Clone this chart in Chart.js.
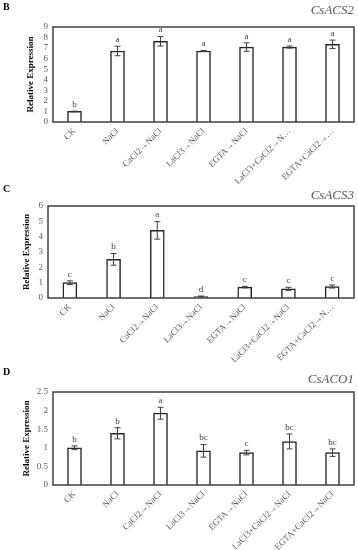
<!DOCTYPE html>
<html>
<head>
<meta charset="utf-8">
<script src="https://cdn.jsdelivr.net/npm/chart.js@4"></script>
<style>
  html, body { margin: 0; padding: 0; background: #ffffff; }
  body { width: 358px; height: 550px; position: relative; overflow: hidden; }
  canvas { position: absolute; left: 0; }
</style>
</head>
<body>
<canvas id="cB" width="358" height="185" style="top:0px"></canvas>
<canvas id="cC" width="358" height="180" style="top:185px"></canvas>
<canvas id="cD" width="358" height="185" style="top:365px"></canvas>
<script>
// ---------- DATA ----------
const categoriesB = ['CK', 'NaCl', 'CaCl2→NaCl', 'LaCl3→NaCl', 'EGTA→NaCl', 'LaCl3+CaCl2→N…', 'EGTA+CaCl2→…'];
const categoriesC = ['CK', 'NaCl', 'CaCl2→NaCl', 'LaCl3→NaCl', 'EGTA→NaCl', 'LaCl3+CaCl2→NaCl', 'EGTA+CaCl2→N…'];
const categoriesD = ['CK', 'NaCl', 'CaCl2→NaCl', 'LaCl3→NaCl', 'EGTA→NaCl', 'LaCl3+CaCl2→NaCl', 'EGTA+CaCl2→NaCl'];

const valuesB = [1.0, 6.73, 7.65, 6.73, 7.1, 7.1, 7.36];
const errorsB = [0.03, 0.45, 0.45, 0.05, 0.4, 0.1, 0.4];
const lettersB = ['b', 'a', 'a', 'a', 'a', 'a', 'a'];

const valuesC = [1.0, 2.52, 4.41, 0.1, 0.71, 0.6, 0.75];
const errorsC = [0.12, 0.38, 0.57, 0.03, 0.05, 0.1, 0.1];
const lettersC = ['c', 'b', 'a', 'd', 'c', 'c', 'c'];

const valuesD = [1.0, 1.39, 1.93, 0.92, 0.87, 1.17, 0.87];
const errorsD = [0.05, 0.15, 0.16, 0.17, 0.06, 0.2, 0.1];
const lettersD = ['b', 'b', 'a', 'bc', 'c', 'bc', 'bc'];

const yTicksB = { min: 0, max: 9, step: 1 };
const yTicksC = { min: 0, max: 6, step: 1 };
const yTicksD = { min: 0, max: 2.5, step: 0.5 };

const yTitle = 'Relative Expression';

// ---------- LAYOUT / STYLE ----------
const SERIF = '"Liberation Serif", "Times New Roman", serif';

const panels = [
  { id: 'cB', H: 185, top: 27, bottom: 122, left: 53, panel: 'B', gene: 'CsACS2', geneY: 11, panelY: 7, titleX: 31,
    cats: categoriesB, vals: valuesB, errs: errorsB, lets: lettersB, yt: yTicksB },
  { id: 'cC', H: 180, top: 21, bottom: 113, left: 48, panel: 'C', gene: 'CsACS3', geneY: 11, panelY: 4, titleX: 27,
    cats: categoriesC, vals: valuesC, errs: errorsC, lets: lettersC, yt: yTicksC },
  { id: 'cD', H: 185, top: 27, bottom: 120, left: 53, panel: 'D', gene: 'CsACO1', geneY: 15, panelY: 7, titleX: 27,
    cats: categoriesD, vals: valuesD, errs: errorsD, lets: lettersD, yt: yTicksD }
];

const decorPlugin = {
  id: 'decor',
  afterDatasetsDraw(chart, args, opts) {
    const ctx = chart.ctx;
    const ca = chart.chartArea;
    const meta = chart.getDatasetMeta(0);
    const ys = chart.scales.y;
    ctx.save();
    meta.data.forEach((bar, i) => {
      const v = opts.vals[i], e = opts.errs[i];
      const x = bar.x;
      const yT = ys.getPixelForValue(v + e);
      const yB = ys.getPixelForValue(v - e);
      ctx.strokeStyle = '#404040';
      ctx.lineWidth = 1;
      ctx.beginPath();
      ctx.moveTo(x, yT); ctx.lineTo(x, yB);
      ctx.moveTo(x - 3, yT); ctx.lineTo(x + 3, yT);
      ctx.moveTo(x - 3, yB); ctx.lineTo(x + 3, yB);
      ctx.stroke();
      ctx.fillStyle = '#404040';
      ctx.font = '9px ' + SERIF;
      ctx.textAlign = 'center';
      ctx.textBaseline = 'bottom';
      ctx.fillText(opts.lets[i], x, Math.min(yT, bar.y) - 2);
    });
    ctx.strokeStyle = '#404040';
    ctx.lineWidth = 1.5;
    ctx.strokeRect(ca.left, ca.top, ca.right - ca.left, ca.bottom - ca.top);
    ctx.save();
    ctx.translate(opts.titleX, (ca.top + ca.bottom) / 2);
    ctx.rotate(-Math.PI / 2);
    ctx.fillStyle = '#000000';
    ctx.font = 'bold 9px ' + SERIF;
    ctx.textAlign = 'center';
    ctx.textBaseline = 'middle';
    ctx.fillText(yTitle, 0, 0);
    ctx.restore();
    ctx.fillStyle = '#000000';
    ctx.font = 'bold 10px ' + SERIF;
    ctx.textAlign = 'left';
    ctx.textBaseline = 'middle';
    ctx.fillText(opts.panel, 3, opts.panelY);
    ctx.fillStyle = '#595959';
    ctx.font = 'italic 13px ' + SERIF;
    ctx.textAlign = 'right';
    ctx.textBaseline = 'middle';
    ctx.fillText(opts.gene, 354, opts.geneY);
    ctx.restore();
  }
};

panels.forEach(p => {
  new Chart(document.getElementById(p.id), {
    type: 'bar',
    data: {
      labels: p.cats,
      datasets: [{
        data: p.vals,
        backgroundColor: '#ffffff',
        borderColor: '#262626',
        borderWidth: 1.5,
        barThickness: 14
      }]
    },
    options: {
      responsive: false,
      animation: false,
      devicePixelRatio: 1,
      layout: { padding: { top: p.top, right: 4, left: 0, bottom: 0 } },
      plugins: {
        legend: { display: false },
        tooltip: { enabled: false },
        decor: { vals: p.vals, errs: p.errs, lets: p.lets, panel: p.panel, gene: p.gene,
                 geneY: p.geneY, panelY: p.panelY, titleX: p.titleX }
      },
      scales: {
        x: {
          grid: { display: false, drawTicks: false },
          border: { display: false },
          ticks: {
            autoSkip: false, minRotation: 45, maxRotation: 45, padding: 4,
            color: '#595959', font: { family: SERIF, size: 9 }
          },
          afterFit(scale) { scale.height = p.H - p.bottom; }
        },
        y: {
          min: p.yt.min, max: p.yt.max,
          grid: { display: false, drawTicks: false },
          border: { display: false },
          ticks: {
            stepSize: p.yt.step, padding: 5, autoSkip: false,
            color: '#595959', font: { family: SERIF, size: 9 },
            callback: (v) => String(Math.round(v * 100) / 100)
          },
          afterFit(scale) { scale.width = p.left; }
        }
      }
    },
    plugins: [decorPlugin]
  });
});
</script>
</body>
</html>
